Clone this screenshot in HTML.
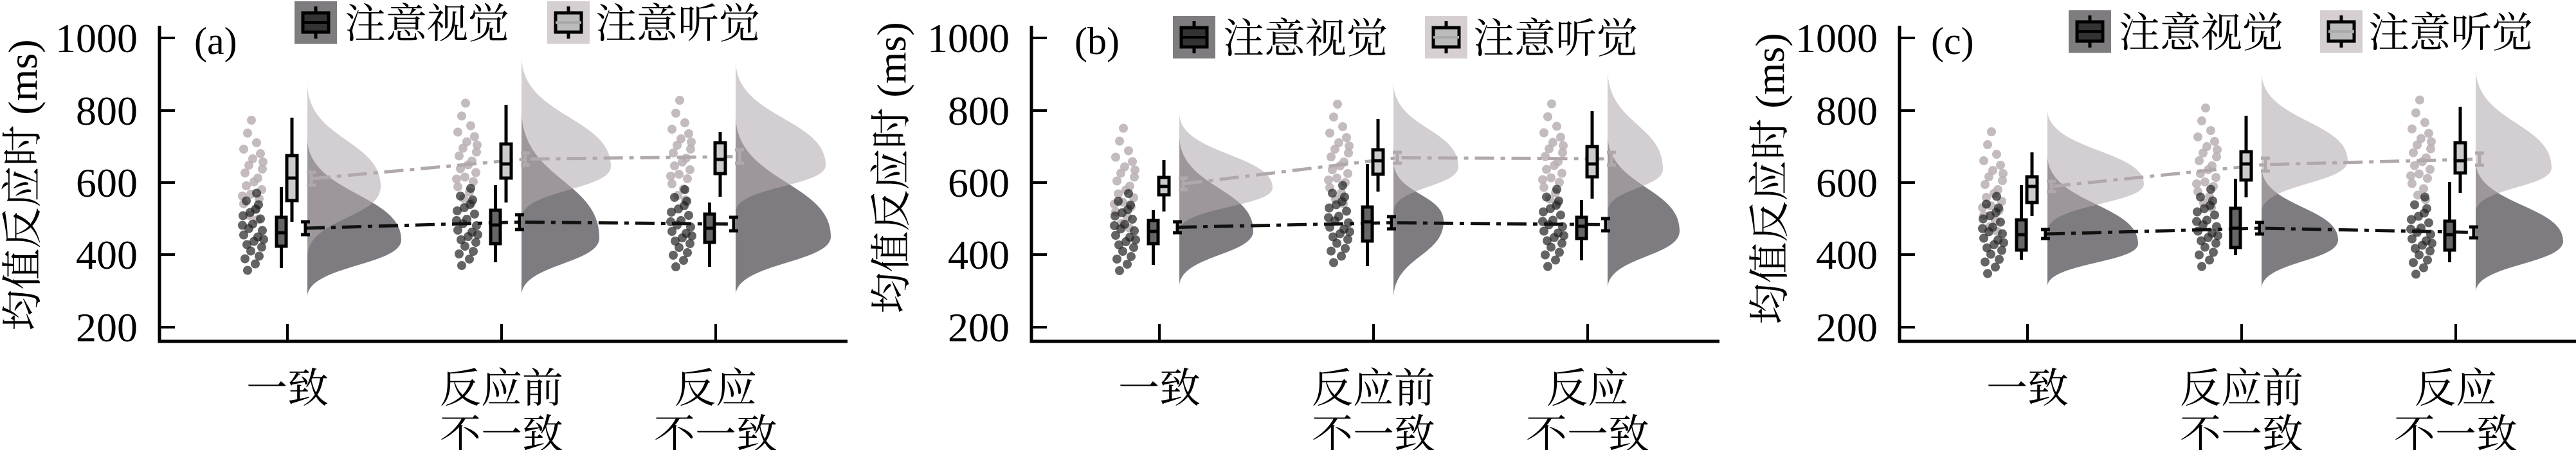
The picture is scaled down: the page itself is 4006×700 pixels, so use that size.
<!DOCTYPE html>
<html><head><meta charset="utf-8"><style>
html,body{margin:0;padding:0;background:#fff;width:4006px;height:700px;overflow:hidden}
svg text{font-family:"Liberation Serif","Noto Serif CJK SC","Noto Sans CJK SC",serif;fill:#000}
.vd{fill:#7f7c81}.vl{fill:#b4abb0;fill-opacity:.58}
.bx{stroke:#000;stroke-width:5}
.db{fill:#666;stroke:#000;stroke-width:5}.lb{fill:#ccc;stroke:#000;stroke-width:5}
.ed{stroke:#000;stroke-width:5}.el{stroke:#b0a8ac;stroke-width:5}
.dl{fill:none;stroke:#111;stroke-width:5;stroke-dasharray:30 10 7 10}
.ll{fill:none;stroke:#b0a8ac;stroke-width:5;stroke-dasharray:30 10 7 10}
.ax{stroke:#000;stroke-width:5}.tk{stroke:#000;stroke-width:4}
</style></head><body>
<svg width="4006" height="700" xmlns="http://www.w3.org/2000/svg">
<defs>
<g id="cd" fill="#222" fill-opacity="0.7">
<circle cx="-10" cy="-48" r="7"/><circle cx="5" cy="-35" r="7"/><circle cx="-15" cy="-25" r="7"/><circle cx="12" cy="-20" r="7"/><circle cx="0" cy="-12" r="7"/><circle cx="-6" cy="-5" r="7"/><circle cx="15" cy="-2" r="7"/><circle cx="-14" cy="5" r="7"/><circle cx="8" cy="8" r="7"/><circle cx="2" cy="15" r="7"/><circle cx="-9" cy="20" r="7"/><circle cx="14" cy="24" r="7"/><circle cx="-3" cy="30" r="7"/><circle cx="10" cy="38" r="7"/><circle cx="-12" cy="42" r="7"/><circle cx="4" cy="50" r="7"/><circle cx="-16" cy="-10" r="7"/><circle cx="17" cy="12" r="7"/><circle cx="-4" cy="-30" r="7"/><circle cx="9" cy="-42" r="7"/><circle cx="-8" cy="60" r="7"/><circle cx="6" cy="-60" r="7"/>
</g>
<g id="cl" fill="#b9afb4" fill-opacity="0.85">
<circle cx="-8" cy="-70" r="7"/><circle cx="6" cy="-55" r="7"/><circle cx="-14" cy="-45" r="7"/><circle cx="12" cy="-38" r="7"/><circle cx="0" cy="-30" r="7"/><circle cx="-6" cy="-20" r="7"/><circle cx="15" cy="-14" r="7"/><circle cx="-12" cy="-8" r="7"/><circle cx="8" cy="0" r="7"/><circle cx="2" cy="6" r="7"/><circle cx="-10" cy="12" r="7"/><circle cx="14" cy="18" r="7"/><circle cx="-3" cy="25" r="7"/><circle cx="10" cy="32" r="7"/><circle cx="-14" cy="40" r="7"/><circle cx="4" cy="48" r="7"/><circle cx="-5" cy="58" r="7"/><circle cx="16" cy="-25" r="7"/><circle cx="-16" cy="28" r="7"/><circle cx="7" cy="65" r="7"/><circle cx="-2" cy="-90" r="7"/>
</g>
</defs>

<!-- ================= PANEL A ================= -->
<g>
<path class="vd" d="M478,214 C478,301.5 624,301.5 624,373 C624,413 478,413 478,462Z"/>
<path class="vl" d="M478,129 C478,217.5 592,217.5 592,290 C592,339.5 478,339.5 478,400Z"/>
<path class="vd" d="M811,170 C811,280 932,280 932,370 C932,410.5 811,410.5 811,460Z"/>
<path class="vl" d="M811,87 C811,181.6 950,181.6 950,259 C950,295.5 811,295.5 811,340Z"/>
<path class="vd" d="M1144,179 C1144,283 1292,283 1292,368 C1292,409 1144,409 1144,460Z"/>
<path class="vl" d="M1144,94 C1144,183.6 1284,183.6 1284,257 C1284,290 1144,290 1144,330Z"/>
<use href="#cl" x="393" y="277"/><use href="#cd" x="393" y="360.5"/>
<use href="#cl" x="726" y="250.5"/><use href="#cd" x="726" y="353"/>
<use href="#cl" x="1059" y="246"/><use href="#cd" x="1059" y="355"/>
<path class="ll" d="M484,278 L817,247.5 L1150,243.5"/>
<path class="dl" d="M475,355 L808,345.5 L1141,348.5"/>
<line class="bx" x1="437.5" y1="291" x2="437.5" y2="417"/><rect class="db" x="430" y="338" width="15" height="45"/><line class="bx" x1="430" y1="362" x2="445" y2="362"/>
<line class="bx" x1="454" y1="183" x2="454" y2="345"/><rect class="lb" x="446" y="242" width="16" height="70"/><line class="bx" x1="446" y1="277" x2="462" y2="277"/>
<line class="bx" x1="770.5" y1="288" x2="770.5" y2="408"/><rect class="db" x="763" y="327" width="15" height="52"/><line class="bx" x1="763" y1="350" x2="778" y2="350"/>
<line class="bx" x1="787" y1="163" x2="787" y2="315"/><rect class="lb" x="779" y="224" width="16" height="53"/><line class="bx" x1="779" y1="255" x2="795" y2="255"/>
<line class="bx" x1="1103.5" y1="315" x2="1103.5" y2="415"/><rect class="db" x="1096" y="333" width="15" height="44"/><line class="bx" x1="1096" y1="355" x2="1111" y2="355"/>
<line class="bx" x1="1120" y1="205" x2="1120" y2="306"/><rect class="lb" x="1112" y="222" width="16" height="48"/><line class="bx" x1="1112" y1="248" x2="1128" y2="248"/>
<path class="ed" d="M475,345V365M468,345H482M468,365H482"/><path class="el" d="M484,268V288M477,268H491M477,288H491"/>
<path class="ed" d="M808,334V357M801,334H815M801,357H815"/><path class="el" d="M817,238V257M810,238H824M810,257H824"/>
<path class="ed" d="M1141,338V359M1134,338H1148M1134,359H1148"/><path class="el" d="M1150,233V254M1143,233H1157M1143,254H1157"/>
<line class="ax" x1="248" y1="40" x2="248" y2="533"/><line class="ax" x1="246" y1="531" x2="1318" y2="531"/>
<path class="tk" d="M248,59H272M248,172H272M248,284H272M248,396H272M248,509H272M447,504V531M780,504V531M1113,504V531"/>
<text x="214" y="81" font-size="64" text-anchor="end">1000</text><text x="214" y="194" font-size="64" text-anchor="end">800</text><text x="214" y="306" font-size="64" text-anchor="end">600</text><text x="214" y="418" font-size="64" text-anchor="end">400</text><text x="214" y="531" font-size="64" text-anchor="end">200</text>
<text x="447" y="626" font-size="64" text-anchor="middle">一致</text>
<text x="780" y="626" font-size="64" text-anchor="middle">反应前</text><text x="780" y="698" font-size="64" text-anchor="middle">不一致</text>
<text x="1113" y="626" font-size="64" text-anchor="middle">反应</text><text x="1113" y="698" font-size="64" text-anchor="middle">不一致</text>
<text transform="translate(57,288) rotate(-90)" font-size="64" text-anchor="middle">均值反应时 (ms)</text>
<text x="302" y="84" font-size="60">(a)</text>
<rect x="458" y="2" width="66" height="66" fill="#7f7c80"/><line class="bx" x1="491" y1="10" x2="491" y2="60"/><rect x="471" y="20" width="40" height="30" fill="#333" stroke="#000" stroke-width="5"/><line x1="471" y1="35" x2="511" y2="35" stroke="#000" stroke-width="4"/>
<text x="536" y="59" font-size="64">注意视觉</text>
<rect x="851" y="2" width="66" height="66" fill="#d5cfd2"/><line class="bx" x1="884" y1="10" x2="884" y2="60"/><rect x="864" y="20" width="40" height="30" fill="#bbb" stroke="#000" stroke-width="5"/><line x1="864" y1="35" x2="904" y2="35" stroke="#aaa" stroke-width="4"/>
<text x="926" y="59" font-size="64">注意听觉</text>
</g>

<!-- ================= PANEL B ================= -->
<g transform="translate(1356,0)">
<path class="vd" d="M478,210 C478,292 593,292 593,359 C593,397 478,397 478,446Z"/>
<path class="vl" d="M478,176 C478,239.8 623,239.8 623,292 C623,322 478,322 478,360Z"/>
<path class="vd" d="M811,250 C811,301.7 889,301.7 889,344 C889,399 811,399 811,466Z"/>
<path class="vl" d="M811,127 C811,199.6 912,199.6 912,259 C912,291 811,291 811,330Z"/>
<path class="vd" d="M1144,208 C1144,291 1256,291 1256,359 C1256,399.5 1144,399.5 1144,449Z"/>
<path class="vl" d="M1144,107 C1144,192.8 1230,192.8 1230,263 C1230,293 1144,293 1144,330Z"/>
<use href="#cl" x="393" y="289.5"/><use href="#cd" x="393" y="361"/>
<use href="#cl" x="726" y="252"/><use href="#cd" x="726" y="348.5"/>
<use href="#cl" x="1059" y="251.5"/><use href="#cd" x="1059" y="354.5"/>
<path class="ll" d="M484,286 L817,245.5 L1150,247"/>
<path class="dl" d="M475,353.5 L808,346.5 L1141,349.5"/>
<line class="bx" x1="437.5" y1="327" x2="437.5" y2="412"/><rect class="db" x="430" y="343" width="15" height="36"/><line class="bx" x1="430" y1="360" x2="445" y2="360"/>
<line class="bx" x1="454" y1="249" x2="454" y2="329"/><rect class="lb" x="446" y="276" width="16" height="27"/><line class="bx" x1="446" y1="290" x2="462" y2="290"/>
<line class="bx" x1="770.5" y1="255" x2="770.5" y2="414"/><rect class="db" x="763" y="322" width="15" height="53"/><line class="bx" x1="763" y1="345" x2="778" y2="345"/>
<line class="bx" x1="787" y1="185" x2="787" y2="298"/><rect class="lb" x="779" y="233" width="16" height="38"/><line class="bx" x1="779" y1="250" x2="795" y2="250"/>
<line class="bx" x1="1103.5" y1="311" x2="1103.5" y2="405"/><rect class="db" x="1096" y="338" width="15" height="33"/><line class="bx" x1="1096" y1="352" x2="1111" y2="352"/>
<line class="bx" x1="1120" y1="173" x2="1120" y2="309"/><rect class="lb" x="1112" y="228" width="16" height="47"/><line class="bx" x1="1112" y1="255" x2="1128" y2="255"/>
<path class="ed" d="M475,345V362M468,345H482M468,362H482"/><path class="el" d="M484,277V295M477,277H491M477,295H491"/>
<path class="ed" d="M808,337V356M801,337H815M801,356H815"/><path class="el" d="M817,237V254M810,237H824M810,254H824"/>
<path class="ed" d="M1141,340V359M1134,340H1148M1134,359H1148"/><path class="el" d="M1150,237V257M1143,237H1157M1143,257H1157"/>
<line class="ax" x1="248" y1="40" x2="248" y2="533"/><line class="ax" x1="246" y1="531" x2="1318" y2="531"/>
<path class="tk" d="M248,59H272M248,172H272M248,284H272M248,396H272M248,509H272M447,504V531M780,504V531M1113,504V531"/>
<text x="214" y="81" font-size="64" text-anchor="end">1000</text><text x="214" y="194" font-size="64" text-anchor="end">800</text><text x="214" y="306" font-size="64" text-anchor="end">600</text><text x="214" y="418" font-size="64" text-anchor="end">400</text><text x="214" y="531" font-size="64" text-anchor="end">200</text>
<text x="447" y="626" font-size="64" text-anchor="middle">一致</text>
<text x="780" y="626" font-size="64" text-anchor="middle">反应前</text><text x="780" y="698" font-size="64" text-anchor="middle">不一致</text>
<text x="1113" y="626" font-size="64" text-anchor="middle">反应</text><text x="1113" y="698" font-size="64" text-anchor="middle">不一致</text>
<text transform="translate(52,261) rotate(-90)" font-size="64" text-anchor="middle">均值反应时 (ms)</text>
<text x="315" y="84" font-size="60">(b)</text>
<rect x="468" y="25" width="66" height="66" fill="#7f7c80"/><line class="bx" x1="501" y1="33" x2="501" y2="83"/><rect x="481" y="43" width="40" height="30" fill="#333" stroke="#000" stroke-width="5"/><line x1="481" y1="58" x2="521" y2="58" stroke="#000" stroke-width="4"/>
<text x="546" y="82" font-size="64">注意视觉</text>
<rect x="860" y="25" width="66" height="66" fill="#d5cfd2"/><line class="bx" x1="893" y1="33" x2="893" y2="83"/><rect x="873" y="43" width="40" height="30" fill="#bbb" stroke="#000" stroke-width="5"/><line x1="873" y1="58" x2="913" y2="58" stroke="#aaa" stroke-width="4"/>
<text x="935" y="82" font-size="64">注意听觉</text>
</g>

<!-- ================= PANEL C ================= -->
<g transform="translate(2706,0)">
<path class="vd" d="M478,241 C478,316.9 619,316.9 619,379 C619,409 478,409 478,446Z"/>
<path class="vl" d="M478,170 C478,233.8 628,233.8 628,286 C628,317.5 478,317.5 478,360Z"/>
<path class="vd" d="M811,259 C811,321.7 930,321.7 930,373 C930,407 811,407 811,449Z"/>
<path class="vl" d="M811,112 C811,187.9 945,187.9 945,250 C945,286 811,286 811,330Z"/>
<path class="vd" d="M1144,250 C1144,318.75 1280,318.75 1280,375 C1280,411 1144,411 1144,455Z"/>
<path class="vl" d="M1144,105 C1144,190.8 1262,190.8 1262,261 C1262,292 1144,292 1144,330Z"/>
<use href="#cl" x="393" y="295"/><use href="#cd" x="393" y="365.5"/>
<use href="#cl" x="726" y="258"/><use href="#cd" x="726" y="354.5"/>
<use href="#cl" x="1059" y="245.5"/><use href="#cd" x="1059" y="366.5"/>
<path class="ll" d="M484,290 L817,256 L1150,247.5"/>
<path class="dl" d="M475,364 L808,355 L1141,361.5"/>
<line class="bx" x1="437.5" y1="288" x2="437.5" y2="404"/><rect class="db" x="430" y="342" width="15" height="47"/><line class="bx" x1="430" y1="365" x2="445" y2="365"/>
<line class="bx" x1="454" y1="237" x2="454" y2="336"/><rect class="lb" x="446" y="275" width="16" height="40"/><line class="bx" x1="446" y1="290" x2="462" y2="290"/>
<line class="bx" x1="770.5" y1="278" x2="770.5" y2="397"/><rect class="db" x="763" y="324" width="15" height="61"/><line class="bx" x1="763" y1="355" x2="778" y2="355"/>
<line class="bx" x1="787" y1="180" x2="787" y2="307"/><rect class="lb" x="779" y="236" width="16" height="44"/><line class="bx" x1="779" y1="255" x2="795" y2="255"/>
<line class="bx" x1="1103.5" y1="283" x2="1103.5" y2="408"/><rect class="db" x="1096" y="344" width="15" height="45"/><line class="bx" x1="1096" y1="365" x2="1111" y2="365"/>
<line class="bx" x1="1120" y1="166" x2="1120" y2="300"/><rect class="lb" x="1112" y="222" width="16" height="47"/><line class="bx" x1="1112" y1="250" x2="1128" y2="250"/>
<path class="ed" d="M475,357V371M468,357H482M468,371H482"/><path class="el" d="M484,282V298M477,282H491M477,298H491"/>
<path class="ed" d="M808,346V364M801,346H815M801,364H815"/><path class="el" d="M817,246V266M810,246H824M810,266H824"/>
<path class="ed" d="M1141,353V370M1134,353H1148M1134,370H1148"/><path class="el" d="M1150,238V257M1143,238H1157M1143,257H1157"/>
<line class="ax" x1="248" y1="40" x2="248" y2="533"/><line class="ax" x1="246" y1="531" x2="1318" y2="531"/>
<path class="tk" d="M248,59H272M248,172H272M248,284H272M248,396H272M248,509H272M447,504V531M780,504V531M1113,504V531"/>
<text x="214" y="81" font-size="64" text-anchor="end">1000</text><text x="214" y="194" font-size="64" text-anchor="end">800</text><text x="214" y="306" font-size="64" text-anchor="end">600</text><text x="214" y="418" font-size="64" text-anchor="end">400</text><text x="214" y="531" font-size="64" text-anchor="end">200</text>
<text x="447" y="626" font-size="64" text-anchor="middle">一致</text>
<text x="780" y="626" font-size="64" text-anchor="middle">反应前</text><text x="780" y="698" font-size="64" text-anchor="middle">不一致</text>
<text x="1113" y="626" font-size="64" text-anchor="middle">反应</text><text x="1113" y="698" font-size="64" text-anchor="middle">不一致</text>
<text transform="translate(68,278) rotate(-90)" font-size="64" text-anchor="middle">均值反应时 (ms)</text>
<text x="297" y="84" font-size="60">(c)</text>
<rect x="511" y="16" width="66" height="66" fill="#7f7c80"/><line class="bx" x1="544" y1="24" x2="544" y2="74"/><rect x="524" y="34" width="40" height="30" fill="#333" stroke="#000" stroke-width="5"/><line x1="524" y1="49" x2="564" y2="49" stroke="#000" stroke-width="4"/>
<text x="589" y="73" font-size="64">注意视觉</text>
<rect x="902" y="16" width="66" height="66" fill="#d5cfd2"/><line class="bx" x1="935" y1="24" x2="935" y2="74"/><rect x="915" y="34" width="40" height="30" fill="#bbb" stroke="#000" stroke-width="5"/><line x1="915" y1="49" x2="955" y2="49" stroke="#aaa" stroke-width="4"/>
<text x="977" y="73" font-size="64">注意听觉</text>
</g>
</svg>
</body></html>
